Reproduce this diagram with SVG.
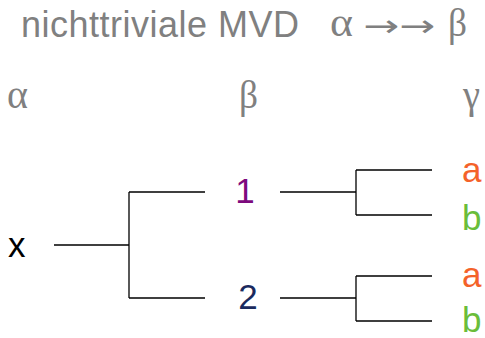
<svg xmlns="http://www.w3.org/2000/svg" width="485" height="338" viewBox="0 0 485 338">
<style>
.t{font-family:"Liberation Sans",Arial,sans-serif;}
.g{font-family:"Liberation Serif","Times New Roman",serif;fill:#808080;font-size:40px;}
.ar{font-family:"DejaVu Sans",sans-serif;fill:#808080;font-size:30px;}
.title{fill:#808080;font-size:36px;}
.lbl{font-size:35px;}
.ln{stroke:#000;stroke-width:1.3;fill:none;}
</style>
<rect width="485" height="338" fill="#fff"/>
<g id="title">
<text class="t title" x="21" y="37" textLength="278" lengthAdjust="spacing">nichttriviale MVD</text>
<text class="g" x="330" y="36" textLength="23" lengthAdjust="spacingAndGlyphs">α</text>
<text class="ar" x="363" y="36" textLength="72" lengthAdjust="spacingAndGlyphs">→→</text>
<text class="g" x="448" y="36" textLength="19" lengthAdjust="spacingAndGlyphs">β</text>
</g>
<g id="headers">
<text class="g" x="7" y="108" textLength="21" lengthAdjust="spacingAndGlyphs">α</text>
<text class="g" x="239" y="108" textLength="19" lengthAdjust="spacingAndGlyphs">β</text>
<text class="g" x="463" y="108" textLength="17" lengthAdjust="spacingAndGlyphs">γ</text>
</g>
<g id="connectors">
<path class="ln" d="M54,245H129M129,192V298M129,192H205M129,298H205"/>
<path class="ln" d="M280,192H356M356,170V215M356,170H432M356,215H432"/>
<path class="ln" d="M280,298H356M356,276V321M356,276H432M356,321H432"/>
</g>
<g id="node-x"><text class="t lbl" x="8" y="257" fill="#000">x</text></g>
<g id="node-1"><text class="t lbl" x="245" y="203" fill="#7d0a7d" text-anchor="middle">1</text></g>
<g id="node-2"><text class="t lbl" x="248" y="309" fill="#1a2a5e" text-anchor="middle">2</text></g>
<g id="node-a1"><text class="t lbl" x="462" y="182" fill="#f4622a">a</text></g>
<g id="node-b1"><text class="t lbl" x="462" y="230" fill="#6abd3a">b</text></g>
<g id="node-a2"><text class="t lbl" x="462" y="287" fill="#f4622a">a</text></g>
<g id="node-b2"><text class="t lbl" x="462" y="332" fill="#6abd3a">b</text></g>
</svg>
